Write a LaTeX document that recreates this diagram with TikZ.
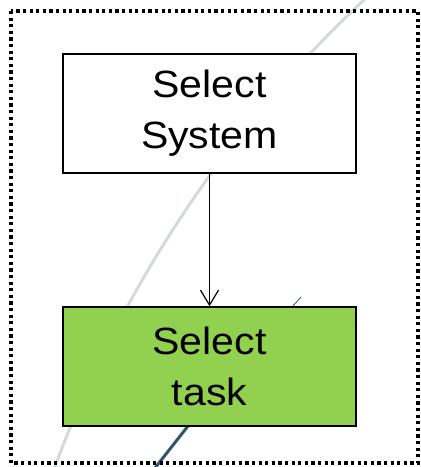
\documentclass[tikz,border=0pt]{standalone}
\usepackage{fontspec}
\newfontfamily\boxfont[FakeStretch=1.08]{Liberation Sans}
\usetikzlibrary{arrows.meta}
\definecolor{palearc}{HTML}{D3DADE}
\definecolor{deeparc}{HTML}{2F5570}
\definecolor{taskgreen}{HTML}{92D050}
\tikzset{
  stepbox/.style={draw=black, line width=1.5pt, minimum width=293pt, minimum height=119pt,
    inner sep=0pt, align=center, font=\boxfont\fontsize{38}{51}\selectfont,
    execute at begin node={\rule{0pt}{40pt}}},
  flow/.style={draw=black, line width=1.2pt, -{Straight Barb[length=15pt,width=18pt,line width=1.2pt]}},
  frame/.style={draw=black, line width=3.4pt, dash pattern=on 3.2pt off 3.4pt}
}
\begin{document}
\begin{tikzpicture}[x=1pt,y=-1pt]
  \useasboundingbox (0,0) rectangle (421,467);
  \clip (0,0) rectangle (421,467);
  % background arcs
  \draw[palearc, line width=3pt] plot[domain=198:229, samples=120]
    ({1197+1217*cos(\x)}, {887+1217*sin(\x)});
  \coordinate (d1) at (301,297);
  \coordinate (d2) at (292,307);
  \coordinate (d3) at (188,426);
  \coordinate (d4) at (155,468);
  \draw[deeparc, line width=0.8pt] (d1) -- (d2);
  \draw[deeparc, line width=3pt] (d3) -- (d4);
  % boxes
  \node[stepbox, fill=white] (sys) at (209.5,113.5) {Select\\System};
  \node[stepbox, fill=taskgreen] (task) at (209.5,366.5) {Select\\task};
  \draw[flow] (sys.south) -- (task.north);
  % dotted frame
  \draw[frame] (11,11) rectangle (418,463);
\end{tikzpicture}
\end{document}
